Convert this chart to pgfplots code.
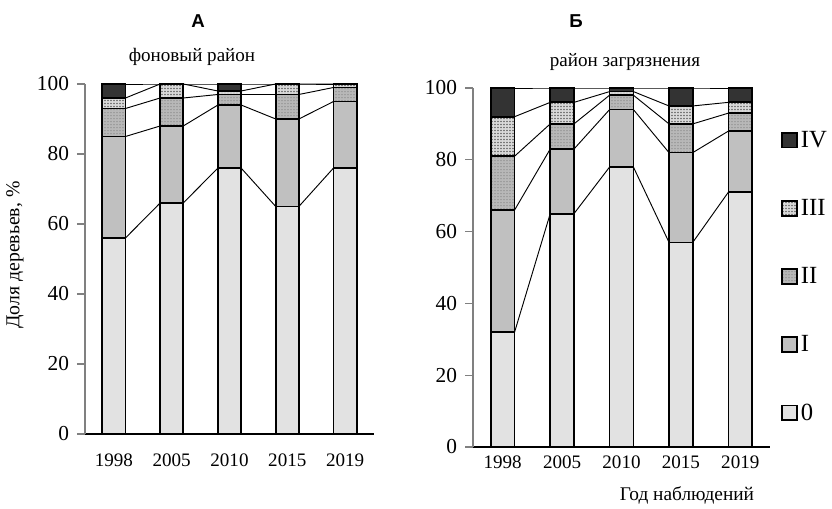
\documentclass[border=0pt]{standalone}
\usepackage{fontspec}
\setmainfont{Liberation Serif}
\newfontfamily\headfont{Liberation Sans}
\usepackage{pgfplots}
\pgfplotsset{compat=1.18}
\usetikzlibrary{patterns.meta}

\definecolor{zerocol}{HTML}{E2E2E2}
\definecolor{icol}{HTML}{C0C0C0}
\definecolor{iicol}{HTML}{B8B8B8}
\definecolor{iiicol}{HTML}{DADADA}
\definecolor{ivcol}{HTML}{333333}

\pgfplotsset{
  geom/.style={scale only axis, xmin=-0.5, xmax=4.5, ymin=0, ymax=100, anchor=south west},
  panel/.style={geom, ybar stacked, bar width=0.4,
    axis x line*=bottom, axis y line*=left,
    x axis line style={black, line width=0.8pt},
    y axis line style={gray, line width=0.8pt},
    ytick={0,20,...,100}, tick align=outside,
    ytick style={gray, line width=0.8pt},
    major tick length=6pt,
    xtick={0,...,4}, xticklabels={1998,2005,2010,2015,2019},
    xtick style={draw=none},
    minor xtick={-0.5,0.5,...,4.5}, minor tick length=4.5pt,
    minor x tick style={black, line width=0.8pt},
    /pgf/number format/assume math mode=true,
    yticklabel style={font=\fontsize{16}{16}\selectfont, xshift=-2.5pt},
    xticklabel style={font=\fontsize{14.3}{14.3}\selectfont},
    clip=false},
  sline/.style={black, line width=0.7pt, no markers},
  s0/.style={draw=black, line width=1.3pt, fill=zerocol},
  s1/.style={draw=black, line width=1.3pt, fill=icol},
  s2/.style={draw=black, line width=1.3pt, fill=iicol,
    postaction={pattern={Dots[distance=2.25pt, radius=0.55pt]}, pattern color=gray!90}},
  s3/.style={draw=black, line width=1.3pt, fill=iiicol,
    postaction={pattern={Dots[distance=2.25pt, radius=0.65pt]}, pattern color=black!60}},
  s4/.style={draw=black, line width=1.3pt, fill=ivcol},
}

\begin{document}
\begin{tikzpicture}[x=1pt, y=1pt]
\path (0,0) rectangle (624,378);

% ---- A: series lines
\begin{axis}[geom, at={(63.75pt,52.5pt)}, width=216.75pt, height=262.5pt, hide axis]
\addplot[sline] coordinates {(0.2,56) (0.8,66) (1.2,66) (1.8,76) (2.2,76) (2.8,65) (3.2,65) (3.8,76)};
\addplot[sline] coordinates {(0.2,85) (0.8,88) (1.2,88) (1.8,94) (2.2,94) (2.8,90) (3.2,90) (3.8,95)};
\addplot[sline] coordinates {(0.2,93) (0.8,96) (1.2,96) (1.8,97) (2.2,97) (2.8,97) (3.2,97) (3.8,99)};
\addplot[sline] coordinates {(0.2,96) (0.8,100) (1.2,100) (1.8,98) (2.2,98) (2.8,100) (3.2,100) (3.8,100)};
\addplot[sline] coordinates {(0.2,100) (0.8,100) (1.2,100) (1.8,100) (2.2,100) (2.8,100) (3.2,100) (3.8,100)};
\end{axis}

% ---- A: bars
\begin{axis}[panel, at={(63.75pt,52.5pt)}, width=216.75pt, height=262.5pt,
  xticklabel style={yshift=-5pt}]
\addplot[s0] coordinates {(0,56) (1,66) (2,76) (3,65) (4,76)};
\addplot[s1] coordinates {(0,29) (1,22) (2,18) (3,25) (4,19)};
\addplot[s2] coordinates {(0,8) (1,8) (2,3) (3,7) (4,4)};
\addplot[s3] coordinates {(0,3) (1,4) (2,1) (3,3) (4,1)};
\addplot[s4] coordinates {(0,4) (1,0) (2,2) (3,0) (4,0)};
\end{axis}

% ---- Б: series lines
\begin{axis}[geom, at={(354.75pt,42.75pt)}, width=222.75pt, height=269.25pt, hide axis]
\addplot[sline] coordinates {(0.2,32) (0.8,65) (1.2,65) (1.8,78) (2.2,78) (2.8,57) (3.2,57) (3.8,71)};
\addplot[sline] coordinates {(0.2,66) (0.8,83) (1.2,83) (1.8,94) (2.2,94) (2.8,82) (3.2,82) (3.8,88)};
\addplot[sline] coordinates {(0.2,81) (0.8,90) (1.2,90) (1.8,98) (2.2,98) (2.8,90) (3.2,90) (3.8,93)};
\addplot[sline] coordinates {(0.2,92) (0.8,96) (1.2,96) (1.8,99) (2.2,99) (2.8,95) (3.2,95) (3.8,96)};
\addplot[sline] coordinates {(0.2,100) (0.8,100) (1.2,100) (1.8,100) (2.2,100) (2.8,100) (3.2,100) (3.8,100)};
\end{axis}

% ---- Б: bars
\begin{axis}[panel, at={(354.75pt,42.75pt)}, width=222.75pt, height=269.25pt,
  xticklabel style={yshift=3pt},
  reverse legend,
  legend cell align=left,
  legend style={draw=none, fill=none, inner sep=0pt, row sep=32.5pt,
    at={(1.036,0.890)}, anchor=north west,
    nodes={inner sep=2.5pt},
    font=\fontsize{18.5}{18.5}\selectfont},
  legend image code/.code={\draw[#1] (0pt,-5.6pt) rectangle (11.2pt,5.6pt);}]
\addplot[s0] coordinates {(0,32) (1,65) (2,78) (3,57) (4,71)};
\addplot[s1] coordinates {(0,34) (1,18) (2,16) (3,25) (4,17)};
\addplot[s2] coordinates {(0,15) (1,7) (2,4) (3,8) (4,5)};
\addplot[s3] coordinates {(0,11) (1,6) (2,1) (3,5) (4,3)};
\addplot[s4] coordinates {(0,8) (1,4) (2,1) (3,5) (4,4)};
\legend{0, I, II, III, IV}
\end{axis}

% ---- titles and labels
\node[font=\headfont\bfseries\fontsize{14}{14}\selectfont] at (148.5,362.5) {А};
\node[font=\headfont\bfseries\fontsize{14}{14}\selectfont] at (432,362.5) {Б};
\node[font=\fontsize{14.3}{14.3}\selectfont] at (144,335.5) {фоновый район};
\node[font=\fontsize{14.3}{14.3}\selectfont] at (468.75,331.5) {район загрязнения};
\node[font=\fontsize{14.8}{14.8}\selectfont, rotate=90] at (11.25,186.75) {Доля деревьев, \%};
\node[font=\fontsize{14.5}{14.5}\selectfont] at (515.25,6.5) {Год наблюдений};
\end{tikzpicture}
\end{document}
